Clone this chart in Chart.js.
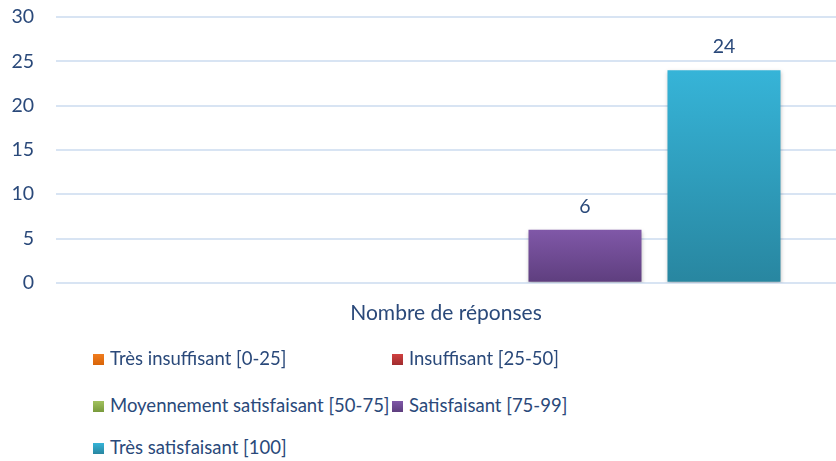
<!DOCTYPE html>
<html>
<head>
<meta charset="utf-8">
<script src="https://cdn.jsdelivr.net/npm/chart.js@4"></script>
<style>
    body { margin: 0; background: #fff; font-family: Lato, sans-serif; }
    #wrap { position: relative; width: 836px; height: 461px; }
    #chart-box { position: absolute; left: 0; top: 0; width: 836px; height: 350px; }
    .leg { position: absolute; font-size: 18.5px; color: #2a497a; white-space: nowrap; line-height: 20px; }
    .leg i { display: inline-block; width: 11px; height: 11px; margin-right: 6px; vertical-align: 0px; }
</style>
</head>
<body>
<div id="wrap">
    <div id="chart-box"><canvas id="answers-chart" width="836" height="350"></canvas></div>
    <div id="legend"></div>
</div>
<script>
const categories = ['Nombre de réponses'];
const seriesNames = [
    'Très insuffisant [0-25]',
    'Insuffisant [25-50]',
    'Moyennement satisfaisant [50-75]',
    'Satisfaisant [75-99]',
    'Très satisfaisant [100]'
];
const seriesValues = [[0], [0], [0], [6], [24]];
const yTicks = [0, 5, 10, 15, 20, 25, 30];

// top / bottom gradient colours for each series
const colorTop = ['#f07c1e', '#d04040', '#a2c25e', '#8058a8', '#36b4d8'];
const colorBottom = ['#d86408', '#a02c2e', '#789a3c', '#5e3e7e', '#2886a0'];
const textColor = '#2a497a';

function barGradient(i) {
    return function (context) {
        const chart = context.chart;
        const area = chart.chartArea;
        if (!area) return colorTop[i];
        const yScale = chart.scales.y;
        const top = yScale.getPixelForValue(seriesValues[i][0]);
        const bottom = yScale.getPixelForValue(0);
        const g = chart.ctx.createLinearGradient(0, top, 0, bottom === top ? top + 1 : bottom);
        g.addColorStop(0, colorTop[i]);
        g.addColorStop(1, colorBottom[i]);
        return g;
    };
}

const datasets = seriesNames.map((name, i) => ({
    label: name,
    data: seriesValues[i],
    backgroundColor: barGradient(i),
    borderWidth: 0,
    categoryPercentage: 0.891,
    barPercentage: 0.813
}));

// small shadow under the bars, like the office original
const barShadow = {
    id: 'barShadow',
    beforeDatasetsDraw(chart) {
        const ctx = chart.ctx;
        ctx.save();
        ctx.shadowColor = 'rgba(0,0,0,0.25)';
        ctx.shadowBlur = 4;
        ctx.shadowOffsetX = 1;
        ctx.shadowOffsetY = 2;
    },
    afterDatasetsDraw(chart) {
        chart.ctx.restore();
    }
};

// value labels above non-zero bars
const valueLabels = {
    id: 'valueLabels',
    afterDatasetsDraw(chart) {
        const ctx = chart.ctx;
        ctx.save();
        ctx.font = '19.5px Lato, sans-serif';
        ctx.fillStyle = textColor;
        ctx.textAlign = 'center';
        ctx.textBaseline = 'middle';
        chart.data.datasets.forEach((ds, i) => {
            const meta = chart.getDatasetMeta(i);
            meta.data.forEach((bar, j) => {
                const v = ds.data[j];
                if (!v) return;
                ctx.fillText(String(v), bar.x, bar.y - 23);
            });
        });
        ctx.restore();
    }
};

const ctx = document.getElementById('answers-chart').getContext('2d');
const chart = new Chart(ctx, {
    type: 'bar',
    data: { labels: categories, datasets: datasets },
    options: {
        responsive: false,
        animation: false,
        layout: { padding: { top: 0, right: -3, left: 0, bottom: 6 } },
        plugins: {
            legend: { display: false },
            tooltip: { enabled: false }
        },
        scales: {
            x: {
                grid: { display: false, drawTicks: false },
                border: { display: false },
                ticks: { color: textColor, font: { family: 'Lato', size: 21 }, padding: 18 }
            },
            y: {
                min: 0,
                max: 30,
                afterBuildTicks: axis => { axis.ticks = yTicks.map(v => ({ value: v })); },
                afterFit: axis => {
                    axis.width = 56;
                    // tick padding is horizontal here, don't let it push the top down
                    axis.paddingTop = 17;
                    axis.paddingBottom = 12;
                },
                grid: { color: '#d8e4f3', lineWidth: 2, drawTicks: false },
                border: { display: false },
                ticks: { color: textColor, font: { family: 'Lato', size: 19.5 }, padding: 22 }
            }
        }
    },
    plugins: [barShadow, valueLabels]
});

// legend built from the series, two columns like the original
const legendPos = [
    [93, 348], [392, 348],
    [93, 395], [392, 395],
    [93, 437]
];
const legendEl = document.getElementById('legend');
seriesNames.forEach((name, i) => {
    const item = document.createElement('div');
    item.className = 'leg';
    item.style.left = legendPos[i][0] + 'px';
    item.style.top = legendPos[i][1] + 'px';
    const box = document.createElement('i');
    box.style.background = `linear-gradient(${colorTop[i]}, ${colorBottom[i]})`;
    item.appendChild(box);
    item.appendChild(document.createTextNode(name));
    legendEl.appendChild(item);
});
</script>
</body>
</html>
